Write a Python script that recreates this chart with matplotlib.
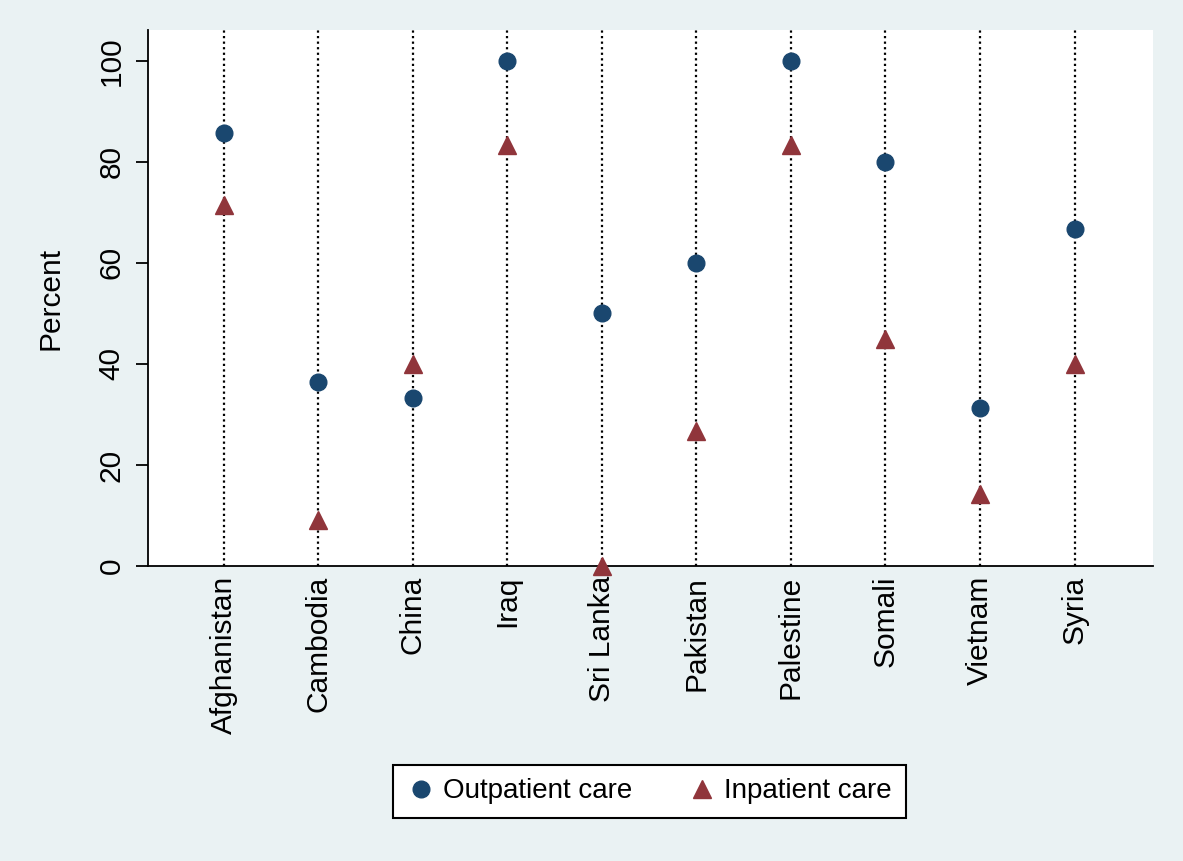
import matplotlib.pyplot as plt
import numpy as np

plt.rcParams["font.family"] = ["Liberation Sans", "DejaVu Sans"]

countries = ["Afghanistan", "Cambodia", "China", "Iraq", "Sri Lanka",
             "Pakistan", "Palestine", "Somali", "Vietnam", "Syria"]
outpatient = [85.7, 36.4, 33.3, 100.0, 50.0, 60.0, 100.0, 80.0, 31.3, 66.7]
inpatient = [71.4, 9.1, 40.0, 83.3, 0.0, 26.7, 83.3, 45.0, 14.3, 40.0]
y_ticks = [0, 20, 40, 60, 80, 100]

BG = "#EAF2F3"
NAVY = "#1A476F"
MAROON = "#90353B"

fig = plt.figure(figsize=(11.83, 8.61), dpi=100, facecolor=BG)
ax = fig.add_axes([148 / 1183, 1 - 566 / 861, (1153 - 148) / 1183, (566 - 30) / 861])
ax.set_facecolor("white")

x = np.arange(len(countries))
for xi in x:
    ax.axvline(xi, color="black", linestyle=(0, (1, 1.5)), linewidth=1.6, zorder=1)

ax.plot(x, outpatient, "o", color=NAVY, markersize=12, label="Outpatient care",
        zorder=4, clip_on=False)
ax.plot(x, inpatient, "^", color=MAROON, markersize=13, label="Inpatient care",
        zorder=4, clip_on=False)

ax.set_xlim(-0.80, 9.83)
ax.set_ylim(0, 106.1)
ax.set_xticks(x)
ax.set_xticklabels(countries, rotation=90, fontsize=21.5)
ax.set_yticks(y_ticks)
ax.set_yticklabels([str(t) for t in y_ticks], rotation=90, va="center", fontsize=21.5)
ax.tick_params(axis="x", length=0, pad=7)
ax.tick_params(axis="y", length=9, width=1.3, pad=7)
ax.set_ylabel("Percent", fontsize=21.5, labelpad=24)

for s in ["top", "right"]:
    ax.spines[s].set_visible(False)
for s in ["left", "bottom"]:
    ax.spines[s].set_linewidth(1.3)
    ax.spines[s].set_zorder(3)

leg = fig.legend(loc="center", bbox_to_anchor=(649.5 / 1183, 1 - 791.5 / 861), ncol=2,
                 fontsize=20, frameon=True, fancybox=False, edgecolor="black",
                 framealpha=1, handletextpad=0.3, columnspacing=2.0, borderpad=0.5,
                 handlelength=1.0, borderaxespad=0)
leg.get_frame().set_linewidth(1.5)

fig.savefig("out.png", dpi=100, facecolor=BG)
